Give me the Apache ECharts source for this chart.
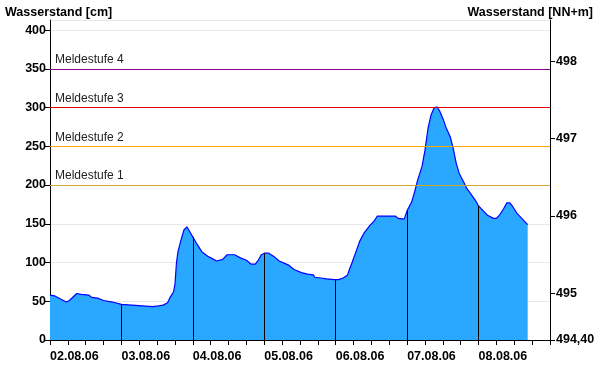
<!DOCTYPE html>
<html>
<head>
<meta charset="utf-8">
<script src="https://cdn.jsdelivr.net/npm/echarts@6/dist/echarts.min.js"></script>
<style>
html,body{margin:0;padding:0;background:#fff;}
#chart{width:600px;height:385px;}
</style>
</head>
<body>
<div id="chart"></div>
<script>
// Tick labels of the time axis (midnight of each day)
const dayLabels = ['02.08.06','03.08.06','04.08.06','05.08.06','06.08.06','07.08.06','08.08.06'];
// Hours since 02.08.06 00:00
const hours = [0,1.5,4,5.5,6.5,9,10.5,13,14,16,18,21,24,27.5,31,34.5,36.5,38,39.5,40.5,41.5,42,42.5,43,44,45,46,46.5,48,49.5,51,53,54.5,56,58,59.5,62,64,66,67.5,69,70,71,72,73.5,75.5,77,80,82,84.5,86.5,88.5,89,91,93,95.5,96,97,98.5,100,100.5,101.5,103,104,105.5,107.5,109,110,112.5,116,117,119,120,121.5,122.5,123.5,125,126,127,128,129,130,131,132,133,134.5,135.5,136.5,137.5,139,140,141.5,143,144,145.5,147,149,150,151,152.5,153.5,154.5,155.5,157,159,160.5];
// Water level in cm
const levels = [58,57,52,49,51,60,59,58,55,54,51,49,46,45,44,43,44,45,48,56,62,72,100,114,129,142,146,143,133,123,114,108,105,102,104,110,110,106,103,98,98,103,110,112,112,107,102,97,91,87,85,84,81,80,79,78,78,78,80,84,90,100,116,127,138,148,154,160,160,160,157,156,167,178,191,206,224,245,273,290,299,301,295,286,275,262,247,228,215,204,196,188,180,173,167,161,157,157,161,170,177,177,172,163,155,149];
// Warning levels (cm)
const warnNames = ['Meldestufe 1','Meldestufe 2','Meldestufe 3','Meldestufe 4'];
const warnValues = [200,250,300,350];
const warnColors = ['#d0a830','#ffa500','#e00000','#8b008b'];
// Right axis (NN+m)
const gaugeZero = 494.40;
const rightTicks = [494.4,495,496,497,498];
const leftMax = 413;

const font = 'Liberation Sans, Arial, sans-serif';

function levelAt(h){ const i = hours.indexOf(h); return i >= 0 ? levels[i] : 0; }

const markData = [];
warnValues.forEach((v,i)=>{
  markData.push({
    name: warnNames[i], yAxis: v,
    lineStyle:{color:warnColors[i], width:1, type:'solid'},
    label:{show:true, position:'insideStartTop', formatter: warnNames[i], color:'#222', fontSize:12, fontFamily:font, distance:[5,3]}
  });
});
for (let d = 1; d < dayLabels.length; d++) {
  const h = d*24;
  markData.push([
    {coord:[h,0], lineStyle:{color:'#000', width:1, type:'solid'}, label:{show:false}},
    {coord:[h,levelAt(h)]}
  ]);
}

const chart = echarts.init(document.getElementById('chart'), null, {renderer:'canvas'});
chart.setOption({
  animation:false,
  backgroundColor:'#fff',
  title:[
    {text:'Wasserstand [cm]', left:0, top:1, textStyle:{fontFamily:font, fontSize:12.5, fontWeight:'bold', color:'#000'}},
    {text:'Wasserstand [NN+m]', right:2, top:1, textStyle:{fontFamily:font, fontSize:12.5, fontWeight:'bold', color:'#000'}}
  ],
  grid:{left:50, right:50, top:20, bottom:45},
  xAxis:{
    type:'value', min:0, max:168, interval:6,
    axisLine:{lineStyle:{color:'#000', width:1}},
    axisTick:{show:true, length:5, lineStyle:{color:'#000'}},
    axisLabel:{
      align:'left', margin:10, color:'#000', fontFamily:font, fontSize:12.5, fontWeight:'bold',
      formatter:function(v){ const d = v/24; return (Number.isInteger(d) && d < dayLabels.length) ? dayLabels[d] : ''; }
    },
    splitLine:{show:false}
  },
  yAxis:[
    {
      type:'value', min:0, max:leftMax, interval:50, position:'left',
      axisLine:{show:true, lineStyle:{color:'#000'}},
      axisTick:{show:true, length:5, lineStyle:{color:'#000'}},
      axisLabel:{color:'#000', fontFamily:font, fontSize:12.5, fontWeight:'bold', margin:4, showMaxLabel:false},
      splitLine:{show:true, lineStyle:{color:'#e8e8e8', width:1}}
    },
    {
      type:'value', min:gaugeZero, max:gaugeZero+leftMax/100, position:'right',
      axisLine:{show:true, lineStyle:{color:'#000'}},
      axisTick:{show:true, length:5, lineStyle:{color:'#000'}, customValues:rightTicks},
      axisLabel:{color:'#000', fontFamily:font, fontSize:12.5, fontWeight:'bold', margin:6, customValues:rightTicks,
        formatter:function(v){ return Math.abs(v-gaugeZero) < 1e-6 ? gaugeZero.toFixed(2).replace('.',',') : String(Math.round(v)); }},
      splitLine:{show:false}
    }
  ],
  series:[{
    type:'line',
    data: hours.map((h,i)=>[h, levels[i]]),
    showSymbol:false, symbol:'none',
    lineStyle:{color:'#0000ff', width:1.2},
    areaStyle:{color:'#2aa8ff', opacity:1},
    z:2,
    markLine:{silent:true, symbol:'none', data:markData}
  }]
});
</script>
</body>
</html>
